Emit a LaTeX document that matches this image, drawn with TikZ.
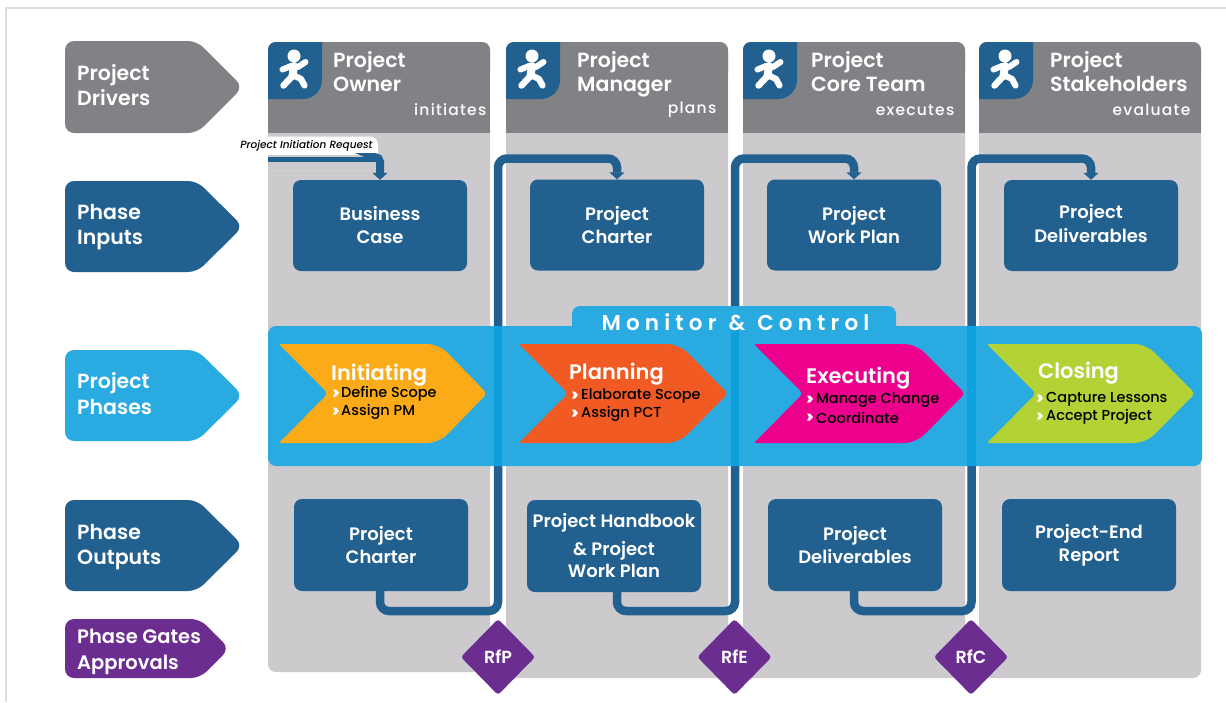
\documentclass[tikz,border=0pt]{standalone}
\usepackage{fontspec}
\setmainfont{Poppins}[BoldFont={Poppins SemiBold},ItalicFont={Poppins Medium Italic}]
\newfontfamily\medfont{Poppins Medium}
\usetikzlibrary{arrows.meta,shapes.geometric}
\definecolor{navy}{HTML}{21608F}
\definecolor{panelgrey}{HTML}{CCCACD}
\definecolor{headgrey}{HTML}{808285}
\definecolor{cyanband}{HTML}{29ABE2}
\definecolor{cyanstrip}{HTML}{0EA0DC}
\definecolor{purp}{HTML}{6C2D91}
\definecolor{frame}{HTML}{DDDDDD}
\definecolor{c1}{HTML}{FBAB18}
\definecolor{c2}{HTML}{F15A22}
\definecolor{c3}{HTML}{EC008C}
\definecolor{c4}{HTML}{B2D235}
\tikzset{
  x=1pt,y=-1pt,
  pent/.style={fill=#1,rounded corners=9pt},
  plab/.style={anchor=west,align=left,text=white,font=\fontsize{20.5}{25.5}\selectfont\bfseries,inner sep=0pt},
  hlab/.style={anchor=west,align=left,text=white,font=\fontsize{20.5}{24}\selectfont\bfseries,inner sep=0pt},
  verb/.style={anchor=east,text=white,inner sep=0pt,font=\fontsize{15.5}{18}\medfont\selectfont\addfontfeatures{LetterSpace=8}},
  phasebox/.style={fill=navy,rounded corners=8pt,text=white,align=center,minimum width=174pt,minimum height=91pt,inner sep=0pt,font=\fontsize{18}{23}\selectfont\bfseries},
  gate/.style={diamond,fill=purp,rounded corners=3pt,text=white,minimum width=74.5pt,minimum height=76pt,inner sep=0pt,font=\fontsize{17.5}{18}\selectfont\bfseries},
  conn/.style={draw=navy,line width=8.5pt,rounded corners=9pt},
  tip/.style={-{Triangle[length=7pt,width=15pt]}},
  chevtitle/.style={anchor=west,text=white,inner sep=0pt,font=\fontsize{21}{24}\selectfont\bfseries},
  chevitem/.style={anchor=west,text=black,inner sep=0pt,font=\fontsize{14.5}{16}\medfont\selectfont}
}
\newcommand{\person}[1]{%
  \begin{scope}[shift={(#1,0)}]
    \fill[navy,rounded corners=0pt] (0,50) arc[start angle=180,end angle=270,radius=8] -- (54,42) -- (54,80)
      arc[start angle=0,end angle=90,radius=19] -- (0,99) -- cycle;
    \fill[white] (26,56) circle[radius=6.5];
    \draw[white,line width=6pt,line cap=round,line join=round]
      (14.5,69.5) -- (23,66) -- (30,67) -- (37.5,62);
    \draw[white,line width=8pt,line cap=round,line join=round]
      (26,66) -- (24.5,76);
    \draw[white,line width=6.5pt,line cap=round,line join=round]
      (24.5,76) -- (15.5,85.5);
    \draw[white,line width=6.2pt,line cap=round,line join=round]
      (25,75) -- (33,79) -- (36.5,85.5);
  \end{scope}}
\newcommand{\hdr}[2]{%
  \fill[panelgrey,rounded corners=8pt] (#1,42) rectangle (#1+222,#2);
  \fill[panelgrey] (#1,120) rectangle (#1+222,#2-10);
  \fill[headgrey,rounded corners=8pt] (#1,42) rectangle (#1+222,80);
  \fill[headgrey] (#1,60) rectangle (#1+222,133);
  \person{#1}}
\newcommand{\chevron}[5]{% left, notch, shoulder, tip, colour
  \fill[fill=#5,rounded corners=2pt] (#1-1,344) [rounded corners=12pt] -- (#3+6,344) [rounded corners=4pt] -- (#4+1.5,393.5) [rounded corners=12pt] -- (#3+6,443) [rounded corners=2pt] -- (#1-1,443) [rounded corners=4pt] -- (#2+1,393.5) [rounded corners=2pt] -- cycle;}
\newcommand{\chevmark}[2]{\fill[white] (#1,#2-3.5) -- (#1+3,#2-3.5) -- (#1+6,#2) -- (#1+3,#2+3.5) -- (#1,#2+3.5) -- (#1+2,#2) -- cycle;}
\begin{document}
\begin{tikzpicture}
\useasboundingbox (0,0) rectangle (1226,702);
\fill[white] (0,0) rectangle (1226,702);
% frame
\fill[frame] (5,7) rectangle (1226,9);
\fill[frame] (5,7) rectangle (7,702);
% left pentagons
\fill[pent=headgrey] (65,41) -- (197,41) -- (243,87) -- (197,133) -- (65,133) -- cycle;
\node[plab] (drv) at (77,85) {Project\\Drivers};
\fill[pent=navy] (65,181) -- (197,181) -- (243,226.5) -- (197,272) -- (65,272) -- cycle;
\node[plab] (inp) at (77,227) {Phase\\Inputs};
\fill[pent=cyanband] (65,350) -- (197,350) -- (243,395.5) -- (197,441) -- (65,441) -- cycle;
\node[plab] (phs) at (77,393.5) {Project\\Phases};
\fill[pent=navy] (65,500) -- (197,500) -- (243,545.5) -- (197,591) -- (65,591) -- cycle;
\node[plab] (out) at (77,547) {Phase\\Outputs};
\fill[pent=purp] (65,619) -- (200,619) -- (229.5,648.5) -- (200,678) -- (65,678) -- cycle;
\node[plab,font=\fontsize{19.5}{25.5}\selectfont\bfseries] (gts) at (77,652) {Phase Gates\\Approvals};
% column panels
\hdr{268}{672}
\hdr{506}{678}
\hdr{743}{678}
\hdr{979}{678}
% header text
\node[hlab] (h1) at (333,72) {Project\\Owner};
\node[hlab] (h2) at (577,74) {Project\\Manager};
\node[hlab] (h3) at (811,72) {Project\\Core Team};
\node[hlab] (h4) at (1050,72) {Project\\Stakeholders};
\node[verb] (v1) at (486.5,110) {initiates};
\node[verb] (v2) at (716.5,110) {plans};
\node[verb] (v3) at (954.5,110) {executes};
\node[verb] (v4) at (1190.5,110) {evaluate};
% request label
\fill[white,rounded corners=8pt] (240,136.5) rectangle (378,170);
\fill[panelgrey] (268,155) rectangle (378,170);
\fill[white] (240,136.5) rectangle (268,170);
\node[inner sep=0pt,text=black,font=\fontsize{10.5}{12}\selectfont\itshape] (req) at (306.5,146) {Project Initiation Request};
% input boxes
\node[phasebox] (i1) at (380,225.5) {Business\\Case};
\node[phasebox] (i2) at (617,225) {Project\\Charter};
\node[phasebox] (i3) at (854,225) {Project\\Work Plan};
\node[phasebox] (i4) at (1091,225.5) {\raisebox{3pt}{\begin{tabular}{@{}c@{}}Project\\[1pt]Deliverables\end{tabular}}};
% output boxes
\node[phasebox,minimum height=92pt] (o1) at (381,545) {Project\\Charter};
\node[phasebox,minimum height=92pt] (o2) at (614,546) {Project Handbook\\[5pt]\& Project\\[-1pt]Work Plan};
\node[phasebox,minimum height=92pt] (o3) at (855,545) {Project\\Deliverables};
\node[phasebox,minimum height=92pt] (o4) at (1089,545) {Project-End\\Report};
% gates
\node[gate] (g1) at (498,657) {RfP};
\node[gate] (g2) at (734.5,657) {RfE};
\node[gate] (g3) at (971,657) {RfC};
% connectors
\coordinate (start) at (268,159);
\coordinate (a1) at (498,611);
\coordinate (b1) at (498,158.5);
\coordinate (a2) at (735,611);
\coordinate (b2) at (735,158.5);
\coordinate (a3) at (971.5,611);
\coordinate (b3) at (971.5,158.5);
\draw[conn,line width=5pt] (start) -- (376,159);
\draw[conn,line width=8pt,tip,rounded corners=5pt] (376,157) -- (380,157) -- (i1.north);
\draw[conn,tip] (o1.south -| 380,0) |- (a1) -- (b1) -| (i2.north);
\draw[conn,tip] (o2.south -| 617,0) |- (a2) -- (b2) -| (i3.north);
\draw[conn,tip] (o3.south -| 854,0) |- (a3) -- (b3) -| (i4.north);
% monitor band
\fill[cyanband,rounded corners=8pt] (268,326) rectangle (1202,466);
\fill[cyanband,rounded corners=8pt] (572,306) rectangle (896,340);
\fill[cyanstrip] (493.7,326) rectangle (502.3,466);
\fill[cyanstrip] (730.7,326) rectangle (739.3,466);
\fill[cyanstrip] (967.2,326) rectangle (975.8,466);
\node[inner sep=0pt,text=white,font=\fontsize{21.5}{24}\selectfont\bfseries\addfontfeatures{LetterSpace=24}] (mc) at (735.5,322) {Monitor\hspace{12pt}\&\hspace{12pt}Control};
% chevrons
\chevron{280}{327}{433}{485.5}{c1}
\chevron{520}{567}{673}{726.5}{c2}
\chevron{755}{802}{910}{963.5}{c3}
\chevron{988}{1035}{1140}{1193.5}{c4}
\node[chevtitle] (t1) at (331,375) {Initiating};
\node[chevitem] at (341,394) {Define Scope};
\node[chevitem] at (341,412) {Assign PM};
\chevmark{333}{393}\chevmark{333}{411}
\node[chevtitle] (t2) at (569,374.5) {Planning};
\node[chevitem] at (581,396) {Elaborate Scope};
\node[chevitem] at (581,414) {Assign PCT};
\chevmark{572}{395}\chevmark{572}{413}
\node[chevtitle] (t3) at (806,378.5) {Executing};
\node[chevitem] at (816,400) {Manage Change};
\node[chevitem] at (816,418) {Coordinate};
\chevmark{807}{399}\chevmark{807}{417}
\node[chevtitle] (t4) at (1038,373.5) {Closing};
\node[chevitem] at (1046,399) {Capture Lessons};
\node[chevitem] at (1046,417) {Accept Project};
\chevmark{1037}{398}\chevmark{1037}{416}
\end{tikzpicture}
\end{document}
